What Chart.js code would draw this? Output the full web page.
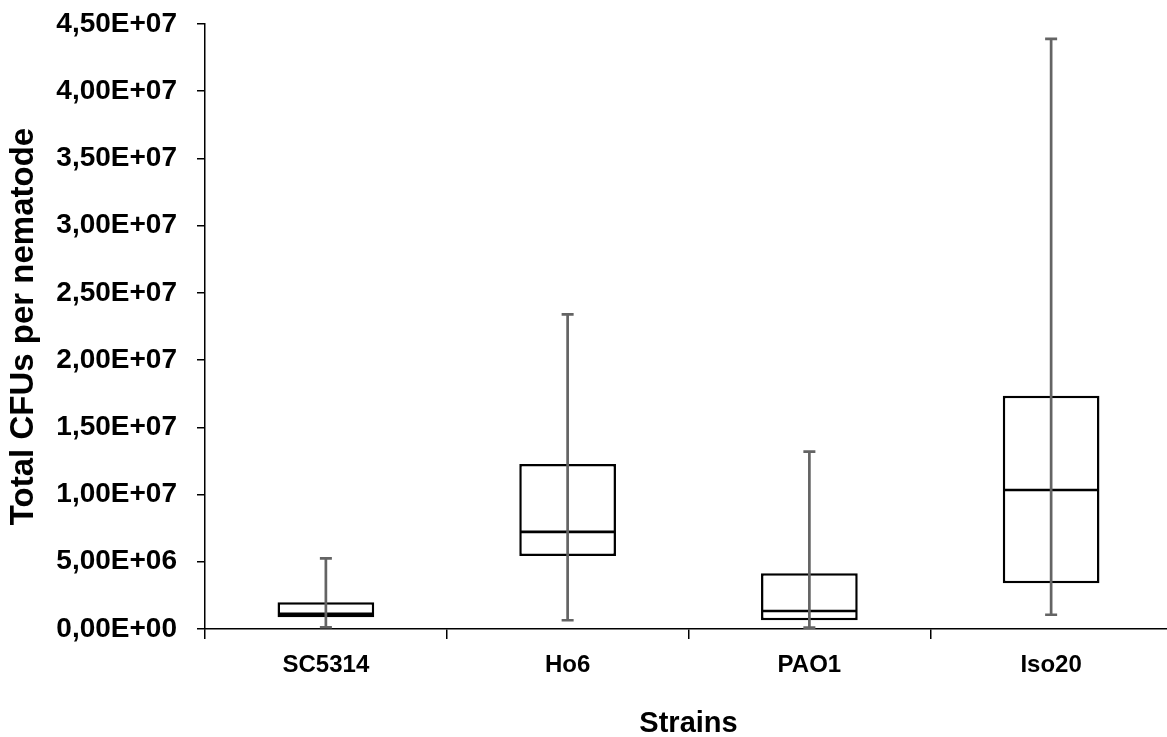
<!DOCTYPE html>
<html>
<head>
<meta charset="utf-8">
<script src="https://cdn.jsdelivr.net/npm/chart.js@4"></script>
<style>
  html, body { margin: 0; padding: 0; background: #fff; overflow: hidden; }
</style>
</head>
<body>
<canvas id="cfu-chart" width="1172" height="737"></canvas>
<script>
// values (CFUs per nematode)
const strains = ['SC5314', 'Ho6', 'PAO1', 'Iso20'];
const minVals = [0.13e6, 0.65e6, 0.10e6, 1.06e6];
const q1Vals = [0.87e6, 5.43e6, 0.65e6, 3.40e6];
const medianVals = [1.12e6, 7.22e6, 1.34e6, 10.34e6];
const q3Vals = [1.99e6, 12.28e6, 4.14e6, 17.34e6];
const maxVals = [5.26e6, 23.40e6, 13.19e6, 43.90e6];
const yTickLabels = ['0,00E+00', '5,00E+06', '1,00E+07', '1,50E+07', '2,00E+07',
    '2,50E+07', '3,00E+07', '3,50E+07', '4,00E+07', '4,50E+07'];

// medians and whiskers drawn on top of the boxes
const boxExtras = {
    id: 'boxExtras',
    afterDatasetsDraw(chart) {
        const ctx = chart.ctx;
        const x = chart.scales.x;
        const y = chart.scales.y;
        const meta = chart.getDatasetMeta(0);
        ctx.save();
        strains.forEach((s, i) => {
            const half = meta.data[i].width / 2;
            const cx = x.getPixelForValue(i);
            // median
            ctx.strokeStyle = '#000';
            ctx.lineWidth = 2.7;
            ctx.beginPath();
            ctx.moveTo(cx - half + 1, y.getPixelForValue(medianVals[i]));
            ctx.lineTo(cx + half - 1, y.getPixelForValue(medianVals[i]));
            ctx.stroke();
            // whisker
            ctx.strokeStyle = '#646464';
            ctx.lineWidth = 2.7;
            const yMin = y.getPixelForValue(minVals[i]);
            const yMax = y.getPixelForValue(maxVals[i]);
            ctx.beginPath();
            ctx.moveTo(cx, yMin);
            ctx.lineTo(cx, yMax);
            ctx.moveTo(cx - 6, yMin);
            ctx.lineTo(cx + 6, yMin);
            ctx.moveTo(cx - 6, yMax);
            ctx.lineTo(cx + 6, yMax);
            ctx.stroke();
        });
        ctx.restore();
    }
};

const ctx = document.getElementById('cfu-chart').getContext('2d');
const cfuChart = new Chart(ctx, {
    type: 'bar',
    data: {
        labels: strains,
        datasets: [{
            data: strains.map((s, i) => [q1Vals[i], q3Vals[i]]),
            backgroundColor: '#ffffff',
            borderColor: '#000000',
            borderWidth: 2.5,
            borderSkipped: false,
            categoryPercentage: 1,
            barPercentage: 0.40
        }]
    },
    plugins: [boxExtras],
    options: {
        responsive: false,
        animation: false,
        events: [],
        layout: { padding: { top: 24, left: 0, right: 0, bottom: 0 } },
        plugins: {
            legend: { display: false },
            tooltip: { enabled: false }
        },
        scales: {
            x: {
                offset: true,
                grid: {
                    offset: true,
                    drawOnChartArea: false,
                    drawTicks: true,
                    tickLength: 10,
                    color: '#000',
                    lineWidth: 1.5
                },
                border: { color: '#000', width: 1.5 },
                ticks: {
                    color: '#000',
                    padding: 12,
                    maxRotation: 0,
                    font: { family: "'Liberation Sans Narrow', 'Liberation Sans', sans-serif", weight: 'bold', size: 24 }
                },
                title: {
                    display: true,
                    text: 'Strains',
                    color: '#000',
                    padding: 0,
                    font: { family: "'Liberation Sans Narrow', 'Liberation Sans', sans-serif", weight: 'bold', size: 29, lineHeight: 0.9 }
                },
                afterFit(scale) {
                    scale.height = 108;
                    scale.paddingLeft = 0;
                    scale.paddingRight = 0;
                }
            },
            y: {
                min: 0,
                max: 4.5e7,
                grid: {
                    drawOnChartArea: false,
                    drawTicks: true,
                    tickLength: 8,
                    color: '#000',
                    lineWidth: 1.5
                },
                border: { color: '#000', width: 1.5 },
                ticks: {
                    stepSize: 5e6,
                    color: '#000',
                    padding: 20,
                    font: { family: "'Liberation Sans', Arial, sans-serif", weight: 'bold', size: 28 },
                    callback: (v, i) => yTickLabels[i]
                },
                title: {
                    display: true,
                    text: 'Total CFUs per nematode',
                    color: '#000',
                    padding: { top: 4, bottom: 0 },
                    font: { family: "'Liberation Sans', Arial, sans-serif", weight: 'bold', size: 33 }
                },
                afterFit(scale) {
                    scale.width = 205;
                    scale.paddingTop = 0;
                    scale.paddingBottom = 0;
                }
            }
        }
    }
});
</script>
</body>
</html>
